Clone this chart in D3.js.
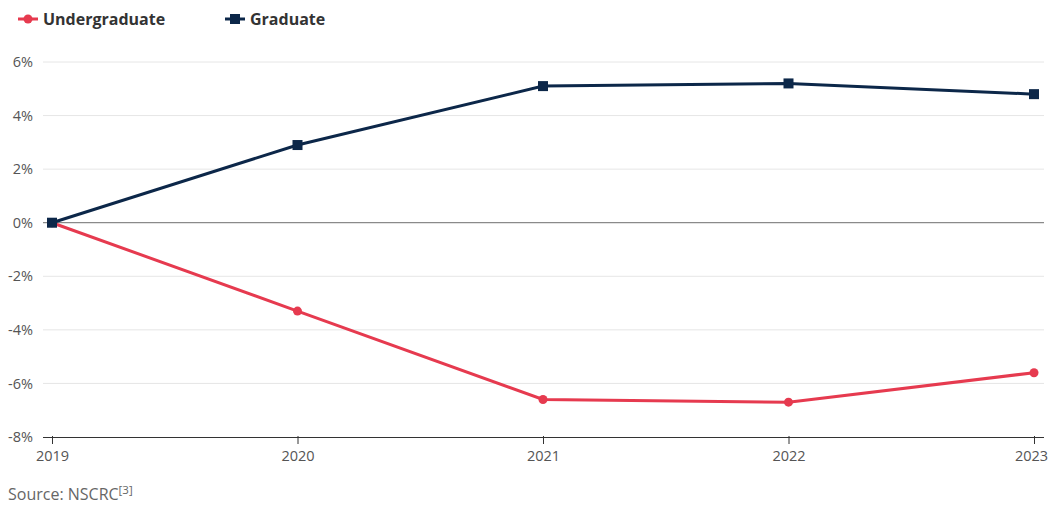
<!DOCTYPE html>
<html>
<head>
<meta charset="utf-8">
<script src="https://cdn.jsdelivr.net/npm/d3@7"></script>
<style>
  body { margin: 0; background: #fff; font-family: "Open Sans", sans-serif; }
  .tick text { fill: #555; font-size: 14.5px; font-family: "Open Sans", sans-serif; }
</style>
</head>
<body>
<div id="chart"></div>
<script>
// data
var years = ["2019", "2020", "2021", "2022", "2023"];
var undergrad = [0, -3.3, -6.6, -6.7, -5.6];
var graduate = [0, 2.9, 5.1, 5.2, 4.8];
var yTicks = [-8, -6, -4, -2, 0, 2, 4, 6];
var seriesNames = ["Undergraduate", "Graduate"];
var seriesColors = ["#e63a4f", "#0c2749"];

var W = 1048, H = 508;
var margin = {top: 62, right: 4, bottom: 71, left: 43};
var width = W - margin.left - margin.right,
    height = H - margin.top - margin.bottom;

var svg = d3.select("#chart").append("svg")
    .attr("width", W)
    .attr("height", H);
var g = svg.append("g")
    .attr("transform", "translate(" + margin.left + "," + margin.top + ")");

var x = d3.scalePoint()
  .domain(years)
  .range([9, width - 10]);

var y = d3.scaleLinear()
  .domain([-8, 6])
  .range([height, 0]);

// grid
g.append("g")
  .selectAll("line")
  .data(yTicks.filter(function(d) { return d != 0 && d != -8; }))
  .enter().append("line")
    .attr("x1", 0).attr("x2", width)
    .attr("y1", function(d) { return y(d); })
    .attr("y2", function(d) { return y(d); })
    .attr("stroke", "#e6e6e6");

g.append("line")
  .attr("x1", 0).attr("x2", width)
  .attr("y1", y(0)).attr("y2", y(0))
  .attr("stroke", "#8a8a8a").attr("stroke-width", 1.3);

// y axis
g.append("g")
  .call(d3.axisLeft(y).tickValues(yTicks).tickSize(0).tickPadding(10)
    .tickFormat(function(d) { return d + "%"; }))
  .call(function(a) { a.select(".domain").remove(); });

// x axis
var xa = g.append("g")
  .attr("transform", "translate(0," + height + ")")
  .call(d3.axisBottom(x).tickSizeInner(8).tickSizeOuter(0).tickPadding(2));
xa.select(".domain").attr("stroke", "#333").attr("d", "M0,0.5H" + width);
xa.selectAll(".tick line").attr("stroke", "#333").attr("y1", -1).attr("y2", 7);
xa.selectAll(".tick text").attr("dy", "0.95em")
  .attr("dx", function(d, i) { return i == years.length - 1 ? -3 : 0; });

var line = d3.line()
  .x(function(d, i) { return x(years[i]); })
  .y(function(d) { return y(d); });

// undergraduate
g.append("path")
  .datum(undergrad)
  .attr("d", line)
  .attr("fill", "none")
  .attr("stroke", seriesColors[0])
  .attr("stroke-width", 3);
g.append("g").selectAll("circle")
  .data(undergrad)
  .enter().append("circle")
    .attr("cx", function(d, i) { return x(years[i]); })
    .attr("cy", function(d) { return y(d); })
    .attr("r", 4.5)
    .attr("fill", seriesColors[0]);

// graduate
g.append("path")
  .datum(graduate)
  .attr("d", line)
  .attr("fill", "none")
  .attr("stroke", seriesColors[1])
  .attr("stroke-width", 3);
g.append("g").selectAll("rect")
  .data(graduate)
  .enter().append("rect")
    .attr("x", function(d, i) { return x(years[i]) - 5; })
    .attr("y", function(d) { return y(d) - 5; })
    .attr("width", 10).attr("height", 10)
    .attr("fill", seriesColors[1]);

// legend
var legX = [18, 225];
var leg = svg.append("g").selectAll("g")
  .data(seriesNames)
  .enter().append("g")
    .attr("transform", function(d, i) { return "translate(" + legX[i] + ",19)"; });
leg.append("line")
  .attr("x1", 0).attr("x2", 20)
  .attr("stroke", function(d, i) { return seriesColors[i]; })
  .attr("stroke-width", 3);
leg.each(function(d, i) {
  var s = d3.select(this);
  if (i == 0) {
    s.append("circle").attr("cx", 10).attr("r", 4.5).attr("fill", seriesColors[0]);
  } else {
    s.append("rect").attr("x", 5).attr("y", -5).attr("width", 10).attr("height", 10)
      .attr("fill", seriesColors[1]);
  }
});
leg.append("text")
  .attr("x", 25)
  .attr("dy", "0.35em")
  .attr("fill", "#333")
  .attr("font-size", "16px")
  .attr("font-weight", "bold")
  .text(function(d) { return d; });

// source
var src = svg.append("text")
  .attr("x", 8).attr("y", 500)
  .attr("fill", "#666")
  .attr("font-size", "16px");
src.append("tspan").text("Source: NSCRC");
src.append("tspan").attr("font-size", "11.5px").attr("dy", "-6").text("[3]");
</script>
</body>
</html>
